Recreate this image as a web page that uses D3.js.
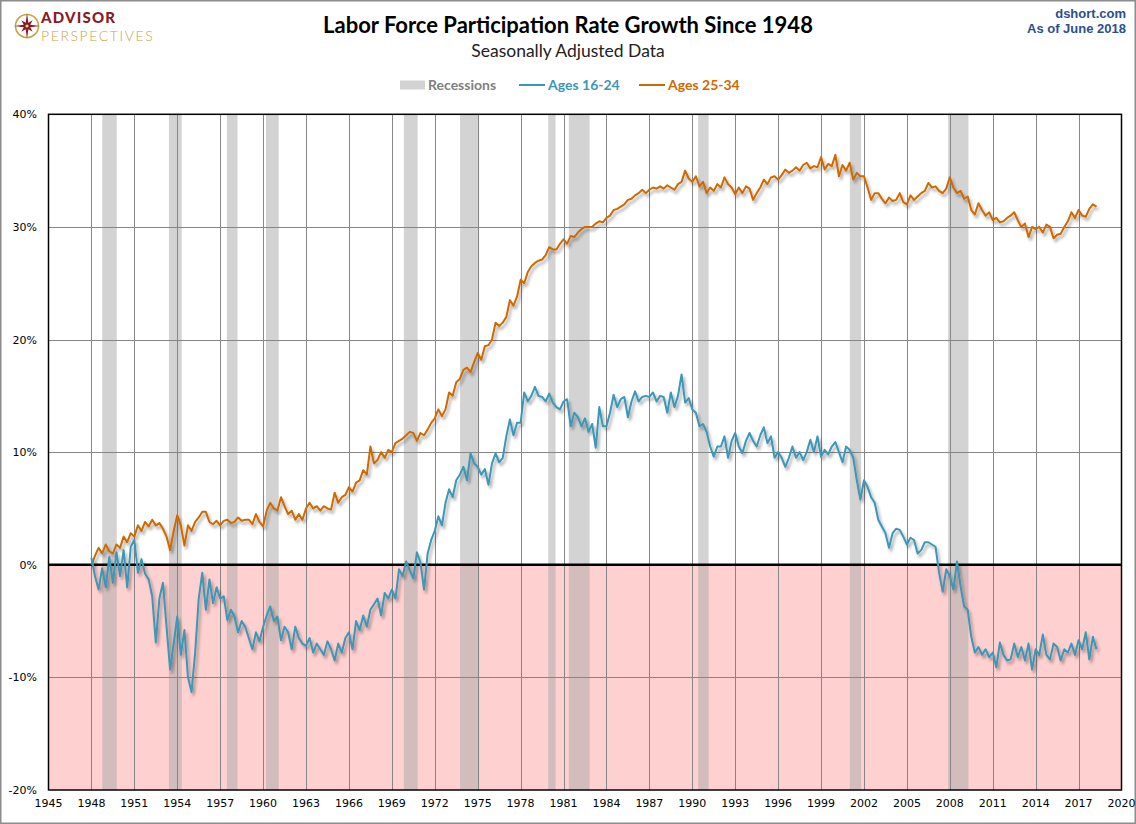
<!DOCTYPE html>
<html>
<head>
<meta charset="utf-8">
<script src="https://cdn.jsdelivr.net/npm/d3@7"></script>
<style>
  body { margin: 0; background: #fff; }
  svg { display: block; }
</style>
</head>
<body>
<div id="chart"></div>
<script>
// quarterly values, % growth since Jan 1948, first point 1948 Q1
var startYear = 1948;
var step = 0.25;

var ages1624 = [
  0.6, -1.0, -2.2, -0.3,
  -2.0, 0.7, -1.6, 1.1,
  -1.0, 1.3, -2.0, 1.6,
  2.2, -0.7, 0.5, -0.8,
  -1.3, -2.8, -6.9, -3.0,
  -1.6, -5.5, -9.3, -7.0,
  -4.6, -8.0, -5.8, -10.0,
  -11.3, -7.8, -3.0, -0.7,
  -4.0, -1.3, -3.4, -2.0,
  -3.0, -2.8, -4.9, -4.0,
  -4.6, -6.0, -5.0, -5.5,
  -6.5, -7.5, -6.0, -6.8,
  -5.5, -4.5, -3.7, -5.0,
  -4.6, -6.7, -5.5, -6.0,
  -7.5, -5.5, -6.5, -7.0,
  -7.2, -6.5, -7.8, -7.0,
  -7.5, -8.0, -6.8, -7.5,
  -8.5, -7.0, -7.8, -6.5,
  -6.0, -7.5, -5.0, -5.8,
  -4.5, -5.5, -4.0, -3.5,
  -3.0, -4.5, -2.5, -3.0,
  -2.2, -3.0, -0.4, -1.0,
  0.3, -0.5, -1.2, 1.1,
  0.2, -2.2, 1.0, 2.2,
  3.0, 4.3, 3.5, 5.5,
  6.7, 6.0, 7.5, 8.0,
  8.7, 7.5, 9.9, 9.0,
  8.7, 8.0, 8.5, 7.1,
  9.0, 9.9, 9.1, 9.5,
  11.4, 12.9, 11.5, 12.6,
  12.6, 15.3, 14.5, 15.0,
  15.8, 15.0, 14.9, 14.5,
  15.2, 14.4, 14.0, 13.8,
  14.5, 14.7, 12.3, 13.5,
  13.1, 12.3, 13.0, 11.8,
  12.5, 10.4, 14.0, 12.3,
  12.3, 13.5, 15.1, 14.0,
  14.7, 14.9, 13.1, 14.5,
  15.4, 14.5, 14.9, 15.0,
  14.9, 15.3, 14.5, 15.0,
  14.9, 13.5, 15.3, 14.0,
  15.0, 16.9, 14.4, 14.8,
  13.8, 13.5, 12.3, 12.5,
  11.8, 10.5, 9.6, 10.5,
  10.5, 11.4, 9.5, 11.0,
  11.7, 10.5, 9.9, 11.0,
  11.7, 11.0, 10.5, 11.5,
  12.2, 10.8, 11.4, 9.5,
  10.0, 9.5, 8.7, 9.5,
  10.5, 9.5, 10.0, 9.3,
  10.0, 11.1, 10.0, 11.4,
  9.6, 10.2, 9.8, 10.5,
  10.9, 10.0, 9.1, 10.5,
  10.2, 9.5, 7.5, 5.8,
  7.5, 6.9, 6.0, 5.5,
  4.0, 3.4, 2.8, 1.5,
  2.8, 3.2, 3.1, 2.5,
  1.8, 2.4, 2.2, 1.0,
  1.3, 2.0, 2.0, 1.8,
  1.6, -0.7, -2.4, -0.4,
  -1.0, -2.2, 0.3, -1.9,
  -3.7, -4.0, -6.4, -7.8,
  -7.3, -8.0, -7.5, -8.2,
  -7.8, -9.1, -6.9, -8.0,
  -8.5, -8.4, -7.0, -8.2,
  -7.3, -8.5, -7.0, -9.3,
  -7.5, -8.0, -6.2, -8.0,
  -8.4, -7.0, -7.3, -8.5,
  -7.5, -7.8, -7.0, -8.0,
  -6.7, -7.5, -6.0, -8.4,
  -6.4, -7.5
];

var ages2534 = [
  0.0, 0.8, 1.5, 1.0,
  1.8, 1.2, 1.0, 1.8,
  1.5, 2.5, 2.0, 2.8,
  2.5, 3.5, 3.0, 3.8,
  3.4, 4.0, 3.5, 3.7,
  3.2, 2.5, 1.3, 3.0,
  4.4, 3.5, 1.7, 3.5,
  3.0, 3.8, 4.2, 4.7,
  4.7, 3.8, 3.6, 3.9,
  3.5, 3.9, 4.0, 3.7,
  3.8, 4.2, 3.9, 4.0,
  4.0, 3.6, 4.5, 3.8,
  3.4, 4.8, 5.5, 5.0,
  4.8, 6.0, 5.2, 4.5,
  4.8, 4.0, 4.5, 4.0,
  5.0, 5.5, 5.0, 5.2,
  4.8, 5.2, 5.0, 4.9,
  6.4, 5.5, 6.0, 6.2,
  6.9, 6.5, 7.3, 7.5,
  8.4, 8.0, 10.5, 9.0,
  9.3, 10.0, 9.5, 10.2,
  10.0, 10.8, 11.0, 11.2,
  11.5, 11.8, 11.7, 11.0,
  11.7, 11.5, 12.0, 12.6,
  13.0, 13.8, 13.2, 13.8,
  15.3, 15.0, 16.2, 16.5,
  17.3, 17.5, 17.1, 18.0,
  18.8, 18.2, 19.4, 19.5,
  20.0, 21.5, 21.2, 21.5,
  22.0, 23.5, 23.0, 23.8,
  25.3, 25.0, 26.0, 26.5,
  26.8, 27.0, 27.1, 27.5,
  28.2, 28.0, 28.0, 28.5,
  28.9, 28.5, 29.2, 29.1,
  29.5, 29.8, 30.0, 30.0,
  30.0, 30.3, 30.5, 30.4,
  30.8, 31.0, 31.5, 31.6,
  31.8, 32.0, 32.4, 32.5,
  32.8, 33.0, 33.3, 33.0,
  33.3, 33.5, 33.4, 33.6,
  33.4, 33.7, 33.5, 33.3,
  33.8, 34.0, 35.0, 34.3,
  34.0, 34.5, 33.6, 34.0,
  33.0, 33.5, 33.2, 33.8,
  33.5, 34.4, 33.8, 33.5,
  32.9, 33.5, 33.0, 33.6,
  33.4, 32.4, 33.0, 33.5,
  34.2, 33.8, 34.4, 34.5,
  34.2, 34.6, 35.1, 34.8,
  35.0, 35.3, 35.0, 35.5,
  35.7, 35.2, 35.4, 35.3,
  36.2, 35.1, 35.6, 35.4,
  36.4, 34.5, 35.5, 35.0,
  35.7, 34.2, 34.8, 34.5,
  34.5, 33.5, 32.4, 33.0,
  33.0, 32.5, 32.1, 32.6,
  32.3, 32.4, 33.0, 32.2,
  32.0, 32.8, 32.4, 32.7,
  33.0, 33.2, 33.9, 33.5,
  33.6, 33.2, 33.0, 33.4,
  34.4, 33.5, 33.0, 33.2,
  32.5, 32.7, 31.5, 31.1,
  32.1, 31.5, 31.0, 31.3,
  30.6, 30.8, 30.4, 30.5,
  30.8, 31.0, 31.3, 30.6,
  30.0, 30.3, 29.1, 30.0,
  29.8, 30.0, 29.5, 30.2,
  30.0, 29.0, 29.3, 29.4,
  30.0, 30.5, 31.3, 30.8,
  31.5, 31.0, 30.9, 31.6,
  32.0, 31.8
];

var recessionStarts = [1948.76, 1953.42, 1957.47, 1960.2, 1969.84, 1973.77, 1979.93, 1981.37, 1990.41, 2001.01, 2007.88];
var recessionEnds   = [1949.77, 1954.31, 1958.21, 1961.09, 1970.8, 1975.1, 1980.44, 1982.82, 1991.14, 2001.8, 2009.3];

var xTicks = [1945, 1948, 1951, 1954, 1957, 1960, 1963, 1966, 1969, 1972, 1975, 1978, 1981, 1984, 1987, 1990, 1993, 1996, 1999, 2002, 2005, 2008, 2011, 2014, 2017, 2020];
var yTicks = [-20, -10, 0, 10, 20, 30, 40];

var W = 1136, H = 824;
var plotLeft = 48.5, plotRight = 1121.5, plotTop = 114.3, plotBottom = 790;

var svg = d3.select("#chart").append("svg")
  .attr("width", W).attr("height", H);

var defs = svg.append("defs");
var f = defs.append("filter").attr("id", "shadow")
  .attr("x", "-5%").attr("y", "-5%").attr("width", "110%").attr("height", "120%");
f.append("feDropShadow")
  .attr("dx", 2).attr("dy", 3).attr("stdDeviation", 1.4)
  .attr("flood-color", "#000").attr("flood-opacity", 0.35);

// outer frame
svg.append("rect").attr("x", 0.5).attr("y", 0.5).attr("width", W - 1).attr("height", H - 1)
  .attr("fill", "#fff").attr("stroke", "#8c8c8c").attr("stroke-width", 2);

var x = d3.scaleLinear().domain([1945, 2020]).range([plotLeft, plotRight]);
var y = d3.scaleLinear().domain([-20, 40]).range([plotBottom, plotTop]);

// negative zone
svg.append("rect")
  .attr("x", x(1945)).attr("y", y(0))
  .attr("width", x(2020) - x(1945)).attr("height", y(-20) - y(0))
  .attr("fill", "#ffd0d0");

// recessions
svg.append("g").selectAll("rect")
  .data(recessionStarts)
  .enter().append("rect")
  .attr("x", function (d) { return x(d); })
  .attr("y", y(40))
  .attr("width", function (d, i) { return x(recessionEnds[i]) - x(d); })
  .attr("height", y(-20) - y(40))
  .attr("fill", "#a8a8a8")
  .attr("fill-opacity", 0.5);

// gridlines
var grid = svg.append("g");
grid.selectAll("line.v")
  .data(xTicks.slice(1, -1))
  .enter().append("line")
  .attr("x1", function (d) { return Math.round(x(d)) + 0.5; })
  .attr("x2", function (d) { return Math.round(x(d)) + 0.5; })
  .attr("y1", y(40)).attr("y2", y(-20))
  .attr("stroke", "#868686").attr("stroke-width", 1);
grid.selectAll("line.h")
  .data([-10, 10, 20, 30])
  .enter().append("line")
  .attr("x1", x(1945)).attr("x2", x(2020))
  .attr("y1", function (d) { return Math.round(y(d)) + 0.5; })
  .attr("y2", function (d) { return Math.round(y(d)) + 0.5; })
  .attr("stroke", "#868686").attr("stroke-width", 1);

// zero line
svg.append("line")
  .attr("x1", x(1945)).attr("x2", x(2020))
  .attr("y1", y(0)).attr("y2", y(0))
  .attr("stroke", "#000").attr("stroke-width", 2.5);

// plot border
svg.append("rect")
  .attr("x", x(1945)).attr("y", y(40))
  .attr("width", x(2020) - x(1945)).attr("height", y(-20) - y(40))
  .attr("fill", "none").attr("stroke", "#000").attr("stroke-width", 1.5);

// series
var line = d3.line()
  .x(function (d, i) { return x(startYear + i * step); })
  .y(function (d) { return y(d); });

svg.append("path").datum(ages2534)
  .attr("d", line)
  .attr("fill", "none").attr("stroke", "#cf6a00").attr("stroke-width", 2)
  .attr("stroke-linejoin", "round")
  .attr("filter", "url(#shadow)");

svg.append("path").datum(ages1624)
  .attr("d", line)
  .attr("fill", "none").attr("stroke", "#3c97b5").attr("stroke-width", 2)
  .attr("stroke-linejoin", "round")
  .attr("filter", "url(#shadow)");

// axes labels
var tickFont = "DejaVu Sans, Verdana, sans-serif";
svg.append("g").selectAll("text")
  .data(yTicks).enter().append("text")
  .attr("x", 37).attr("y", function (d) { return y(d) + 4; })
  .attr("text-anchor", "end")
  .attr("font-family", tickFont).attr("font-size", 11).attr("fill", "#000")
  .text(function (d) { return d + "%"; });

svg.append("g").selectAll("text")
  .data(xTicks).enter().append("text")
  .attr("x", function (d) { return x(d); }).attr("y", 807)
  .attr("text-anchor", "middle")
  .attr("font-family", tickFont).attr("font-size", 11).attr("fill", "#000")
  .text(function (d) { return d; });

// titles
svg.append("text").attr("x", 568).attr("y", 33)
  .attr("text-anchor", "middle")
  .attr("font-family", "Lato, 'Open Sans', sans-serif").attr("font-weight", 700)
  .attr("font-size", 22).attr("fill", "#000")
  .text("Labor Force Participation Rate Growth Since 1948");
svg.append("text").attr("x", 568).attr("y", 57)
  .attr("text-anchor", "middle")
  .attr("font-family", "Lato, 'Open Sans', sans-serif")
  .attr("font-size", 17.5).attr("fill", "#222")
  .text("Seasonally Adjusted Data");

svg.append("text").attr("x", 1126).attr("y", 18)
  .attr("text-anchor", "end")
  .attr("font-family", "Liberation Sans, Arial, sans-serif").attr("font-weight", 700)
  .attr("font-size", 13).attr("fill", "#2b4f8f")
  .text("dshort.com");
svg.append("text").attr("x", 1126).attr("y", 33)
  .attr("text-anchor", "end")
  .attr("font-family", "Liberation Sans, Arial, sans-serif").attr("font-weight", 700)
  .attr("font-size", 13).attr("fill", "#2b4f8f")
  .text("As of June 2018");

// legend
var lg = svg.append("g").attr("font-family", "Lato, 'Open Sans', sans-serif")
  .attr("font-weight", 700).attr("font-size", 14);
lg.append("rect").attr("x", 400).attr("y", 80.5).attr("width", 25).attr("height", 9).attr("fill", "#d3d3d3");
lg.append("text").attr("x", 428).attr("y", 90).attr("fill", "#808080").text("Recessions");
lg.append("line").attr("x1", 519).attr("x2", 545).attr("y1", 85).attr("y2", 85)
  .attr("stroke", "#3c97b5").attr("stroke-width", 2);
lg.append("text").attr("x", 548).attr("y", 90).attr("fill", "#3c97b5").text("Ages 16-24");
lg.append("line").attr("x1", 639).attr("x2", 665).attr("y1", 85).attr("y2", 85)
  .attr("stroke", "#cf6a00").attr("stroke-width", 2);
lg.append("text").attr("x", 668).attr("y", 90).attr("fill", "#cf6a00").text("Ages 25-34");

// logo
var logo = svg.append("g").attr("transform", "translate(27,26)");
logo.append("circle").attr("r", 11.5).attr("fill", "none")
  .attr("stroke", "#c9a24a").attr("stroke-width", 1.6);
var star = [];
for (var k = 0; k < 16; k++) {
  var a = k * Math.PI / 8 - Math.PI / 2;
  var r = k % 4 === 0 ? 13 : (k % 2 === 0 ? 8 : 3.5);
  star.push([r * Math.cos(a), r * Math.sin(a)]);
}
logo.append("path").attr("d", d3.line()(star) + "Z").attr("fill", "#8b1a1f");
logo.append("circle").attr("r", 1.6).attr("fill", "#e8c9a0");
svg.append("text").attr("x", 41).attr("y", 22.5)
  .attr("font-family", "Lato, 'Open Sans', sans-serif").attr("font-weight", 900)
  .attr("font-size", 15).attr("letter-spacing", 1.2).attr("fill", "#8b1a1f")
  .text("ADVISOR");
svg.append("text").attr("x", 41).attr("y", 40.5)
  .attr("font-family", "Lato, 'Open Sans', sans-serif").attr("font-weight", 300)
  .attr("font-size", 14).attr("letter-spacing", 1.6).attr("fill", "#c9a24a")
  .text("PERSPECTIVES");
</script>
</body>
</html>
